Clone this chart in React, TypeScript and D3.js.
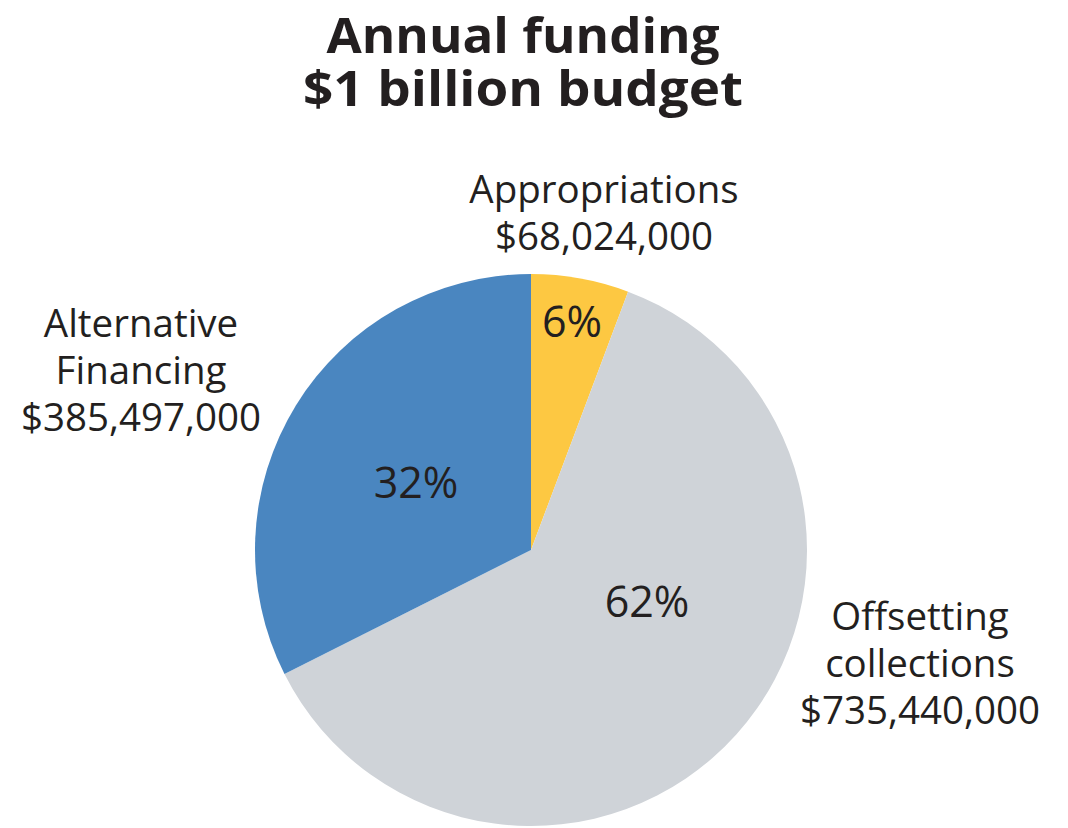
import * as d3 from "d3";

// slices, clockwise from 12 o'clock
const categories = ["Appropriations", "Offsetting collections", "Alternative Financing"];
const amounts = [68024000, 735440000, 385497000];
const labelLines = [
    ["Appropriations"],
    ["Offsetting", "collections"],
    ["Alternative", "Financing"],
];
const titleLines = ["Annual funding", "$1 billion budget"];

const colors = ["#fdc842", "#cfd3d8", "#4a86c0"];

const width = 1068;
const height = 828;
const cx = 531;
const cy = 550;
const radius = 276;

// where the outer name labels sit (centre x, first baseline)
const outerPos = [
    { x: 604, y: 203 },
    { x: 920, y: 630 },
    { x: 141, y: 337 },
];
// where the percent labels sit
const pctPos = [
    { x: 572, y: 337 },
    { x: 647, y: 617 },
    { x: 416, y: 498 },
];

const money = d3.format("$,");

export default function App() {
    const total = d3.sum(amounts);
    const pie = d3.pie<number>().sort(null).value((d) => d);
    const arcs = pie(amounts);
    const arc = d3.arc<d3.PieArcDatum<number>>().innerRadius(0).outerRadius(radius);
    const lh = 47;

    return (
        <svg width={width} height={height} style={{ position: "absolute", left: 0, top: 0, background: "white" }}
            fontFamily="'Open Sans', 'Noto Sans', sans-serif">
            <text fill="#231f20" fontWeight="bold" fontSize={49} textAnchor="middle" y={53}>
                {titleLines.map((t, i) => (
                    <tspan key={i} x={523} dy={i === 0 ? 0 : 53} textLength={i === 0 ? 393 : 440} lengthAdjust="spacingAndGlyphs">{t}</tspan>
                ))}
            </text>
            <g transform={`translate(${cx},${cy})`}>
                {arcs.map((a, i) => (
                    <path key={categories[i]} d={arc(a) as string} fill={colors[i]} />
                ))}
            </g>
            <g fill="#231f20" fontSize={43} textAnchor="middle">
                {arcs.map((a, i) => (
                    <text key={i} x={pctPos[i].x} y={pctPos[i].y}>
                        {Math.round((a.value / total) * 100)}%
                    </text>
                ))}
            </g>
            <g fill="#231f20" fontSize={38.5} textAnchor="middle">
                {labelLines.map((lines, i) => (
                    <g key={i}>
                        {lines.map((l, j) => (
                            <text key={j} x={outerPos[i].x} y={outerPos[i].y + j * lh}>{l}</text>
                        ))}
                        <text x={outerPos[i].x} y={outerPos[i].y + lines.length * lh}>{money(amounts[i])}</text>
                    </g>
                ))}
            </g>
        </svg>
    );
}
